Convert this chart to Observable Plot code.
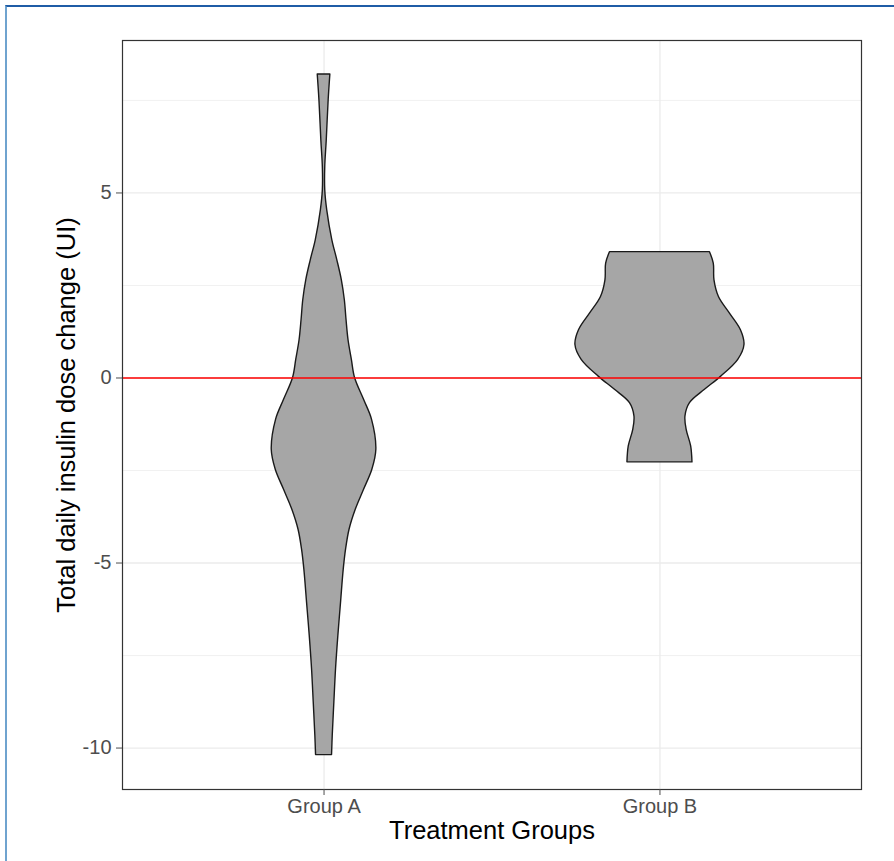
<!DOCTYPE html>
<html><head><meta charset="utf-8">
<script src="https://cdn.jsdelivr.net/npm/d3@7"></script>
<script src="https://cdn.jsdelivr.net/npm/@observablehq/plot@0.6"></script>
<style>
body{margin:0;background:#fff;}
#wrap{position:relative;width:894px;height:861px;overflow:hidden;}
#wrap svg{position:absolute;left:0;top:0;}
#frame{position:absolute;left:5px;top:5px;width:889px;height:856px;border-top:2px solid #1f5ca6;border-left:2px solid #6fa3cf;box-sizing:border-box;pointer-events:none;}
</style></head><body><div id="wrap"><div id="frame"></div></div>
<script>
// Categories and axis text
const groups = ["Group A", "Group B"];
const xTitle = "Treatment Groups";
const yTitle = "Total daily insulin dose change (UI)";
const yMajorTicks = [-10, -5, 0, 5];
const yMinorTicks = [-7.5, -2.5, 2.5, 7.5];

// Violin profiles: value (y) and half-width (in category units)
const groupA_y = [8.2, 7.5, 6.41, 5.7, 5.07, 4.53, 3.72, 3.18, 2.64, 2.1, 1.56, 1.02, 0.49, 0, -0.59, -1.13, -1.94, -2.48, -3.02, -3.56, -4.1, -4.64, -5.18, -6.07, -6.97, -7.87, -8.77, -9.67, -10.19];
const groupA_w = [0.0188, 0.0137, 0.0080, 0.0036, 0.0036, 0.0095, 0.0247, 0.0396, 0.0530, 0.0619, 0.0670, 0.0729, 0.0828, 0.0923, 0.1191, 0.1429, 0.1557, 0.1438, 0.1191, 0.0944, 0.0759, 0.0655, 0.0586, 0.0506, 0.0426, 0.0357, 0.0307, 0.0259, 0.0238];
const groupB_y = [3.40, 3.09, 2.64, 2.19, 1.74, 1.29, 0.89, 0.49, 0.03, -0.32, -0.68, -1.04, -1.40, -1.85, -2.28];
const groupB_w = [0.1489, 0.1602, 0.1623, 0.1756, 0.2084, 0.2411, 0.2516, 0.2331, 0.1816, 0.1340, 0.0893, 0.0759, 0.0795, 0.0929, 0.0968];

const profiles = [[groupA_y, groupA_w], [groupB_y, groupB_w]];
const violinRows = profiles.flatMap(([ys, ws], gi) =>
  ys.map((y, i) => ({group: groups[gi], y, lo: gi + 1 - ws[i], hi: gi + 1 + ws[i]}))
);

const font = "'Liberation Sans', Arial, Helvetica, sans-serif";
const chart = Plot.plot({
  width: 894,
  height: 861,
  marginLeft: 122,
  marginRight: 33,
  marginTop: 40,
  marginBottom: 72,
  style: {fontFamily: font, background: "transparent"},
  x: {type: "linear", domain: [0.4, 2.6], axis: null},
  y: {domain: [-11.12, 9.12], axis: null},
  marks: [
    Plot.gridY(yMinorTicks, {stroke: "#ebebeb", strokeOpacity: 1, strokeWidth: 0.7}),
    Plot.gridY(yMajorTicks, {stroke: "#ebebeb", strokeOpacity: 1, strokeWidth: 1.3}),
    Plot.gridX([1, 2], {stroke: "#ebebeb", strokeOpacity: 1, strokeWidth: 1.3}),
    Plot.areaX(violinRows, {y: "y", x1: "lo", x2: "hi", z: "group", fill: "#a6a6a6", stroke: "#1a1a1a", strokeWidth: 1.4, curve: "catmull-rom"}),
    Plot.ruleY([0], {stroke: "#ff0000", strokeWidth: 1.5}),
    Plot.frame({stroke: "#333333", strokeWidth: 1.2}),
    Plot.axisY(yMajorTicks, {tickSize: 6, tickPadding: 5, fontSize: 20, color: "#4d4d4d", label: null, tickFormat: d => String(d)}),
    Plot.axisX([1, 2], {tickSize: 6, tickPadding: 3, fontSize: 20, color: "#4d4d4d", label: null, tickFormat: d => groups[d - 1]}),
    Plot.text([xTitle], {text: d => d, frameAnchor: "bottom", lineAnchor: "middle", dy: 41, fontSize: 25.5, fill: "#000"}),
    Plot.text([yTitle], {text: d => d, frameAnchor: "left", textAnchor: "middle", lineAnchor: "middle", dx: -56, rotate: -90, fontSize: 25.5, fill: "#000"})
  ]
});
document.getElementById("wrap").insertBefore(chart, document.getElementById("frame"));
</script>
</body></html>
